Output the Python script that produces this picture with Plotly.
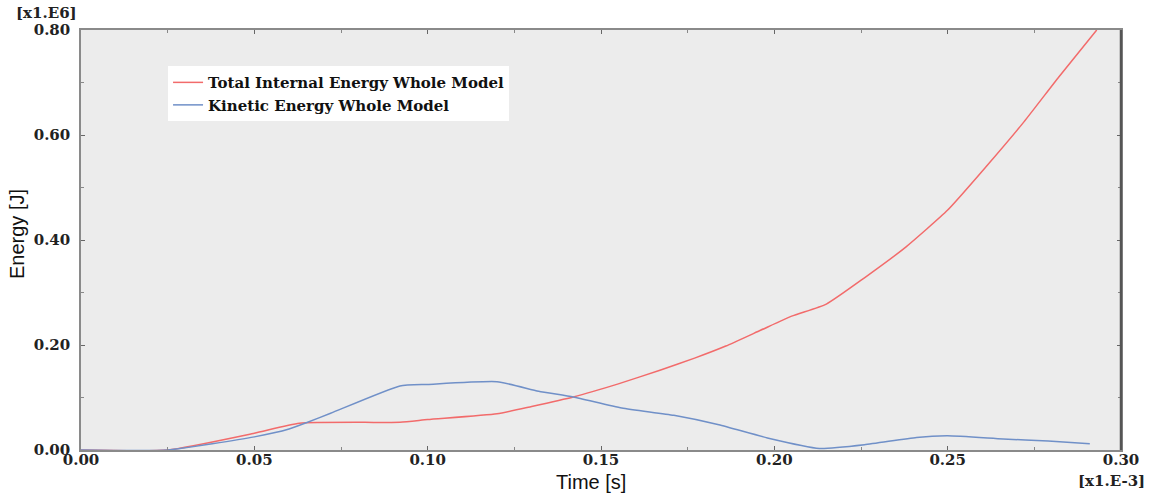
import plotly.graph_objects as go

# Time in [x1.E-3] s, energy in [x1.E6] J
t_internal = [0.0, 0.025, 0.05, 0.063, 0.092, 0.10, 0.12, 0.13, 0.142, 0.155, 0.167, 0.177,
              0.186, 0.196, 0.205, 0.215, 0.226, 0.238, 0.250, 0.261, 0.272, 0.282, 0.293]
e_internal = [0.0, 0.0, 0.032, 0.051, 0.053, 0.058, 0.069, 0.083, 0.101, 0.126, 0.152, 0.175,
              0.198, 0.228, 0.255, 0.278, 0.328, 0.387, 0.457, 0.539, 0.625, 0.710, 0.800]

t_kinetic = [0.0, 0.025, 0.05, 0.060, 0.065, 0.072, 0.092, 0.10, 0.12, 0.132, 0.142, 0.156,
             0.171, 0.184, 0.198, 0.213, 0.226, 0.241, 0.25, 0.266, 0.279, 0.291]
e_kinetic = [0.0, 0.0, 0.025, 0.040, 0.052, 0.070, 0.122, 0.125, 0.130, 0.112, 0.101, 0.080,
             0.066, 0.048, 0.023, 0.003, 0.010, 0.024, 0.027, 0.021, 0.017, 0.012]

x_ticks = [0.00, 0.05, 0.10, 0.15, 0.20, 0.25, 0.30]
y_ticks = [0.00, 0.20, 0.40, 0.60, 0.80]

names = ["Total Internal Energy Whole Model", "Kinetic Energy Whole Model"]

fig = go.Figure()
fig.add_trace(go.Scatter(x=t_internal, y=e_internal, mode="lines", name=names[0],
                         line=dict(color="#f26b6b", width=1.5, shape="spline", smoothing=0.5)))
fig.add_trace(go.Scatter(x=t_kinetic, y=e_kinetic, mode="lines", name=names[1],
                         line=dict(color="#7090c8", width=1.5, shape="spline", smoothing=0.5)))

tickfont = dict(family="DejaVu Serif", size=15, color="#222222", weight="bold")

fig.update_layout(
    width=1151, height=494,
    margin=dict(l=81, r=30, t=30, b=44),
    paper_bgcolor="white",
    plot_bgcolor="#ececec",
    showlegend=True,
    legend=dict(x=0.0837, y=0.914, xanchor="left", yanchor="top",
                bgcolor="white", borderwidth=0,
                font=dict(family="DejaVu Serif", size=15, color="#111111", weight="bold"),
                itemwidth=30, tracegroupgap=0),
    xaxis=dict(range=[0, 0.30], tickvals=x_ticks, ticktext=[f"{v:.2f}" for v in x_ticks],
               showgrid=False, zeroline=False, showline=True, linecolor="#8a8a8a", linewidth=1.5,
               mirror="ticks", ticks="inside", ticklen=4, tickcolor="#666666",
               minor=dict(dtick=0.025, ticks="inside", ticklen=3, tickcolor="#888888", showgrid=False),
               tickfont=tickfont, ticklabelstandoff=-5),
    yaxis=dict(range=[0, 0.80], tickvals=y_ticks, ticktext=[f"{v:.2f}" for v in y_ticks],
               showgrid=False, zeroline=False, showline=True, linecolor="#8a8a8a", linewidth=1.5,
               mirror="ticks", ticks="inside", ticklen=4, tickcolor="#666666",
               minor=dict(dtick=0.1, ticks="inside", ticklen=3, tickcolor="#888888", showgrid=False),
               tickfont=tickfont, ticklabelstandoff=6),
    shapes=[dict(type="line", xref="paper", yref="paper", x0=1, x1=1, y0=0, y1=1,
                 line=dict(color="#555555", width=2.5))],
    annotations=[
        dict(text="[x1.E6]", xref="paper", yref="paper", x=-0.002, y=(450 - 13) / 420,
             xanchor="right", yanchor="middle", showarrow=False, font=tickfont),
        dict(text="[x1.E-3]", xref="paper", yref="paper", x=1.025, y=(450 - 481) / 420,
             xanchor="right", yanchor="middle", showarrow=False, font=tickfont),
        dict(text="Time [s]", xref="paper", yref="paper", x=(591 - 81) / 1040, y=(450 - 482) / 420,
             xanchor="center", yanchor="middle", showarrow=False,
             font=dict(family="Liberation Sans", size=20, color="#111111")),
        dict(text="Energy [J]", xref="paper", yref="paper", x=(17 - 81) / 1040, y=(450 - 234) / 420,
             xanchor="center", yanchor="middle", showarrow=False, textangle=-90,
             font=dict(family="Liberation Sans", size=20, color="#111111")),
    ],
)

fig.write_html("out.html")
